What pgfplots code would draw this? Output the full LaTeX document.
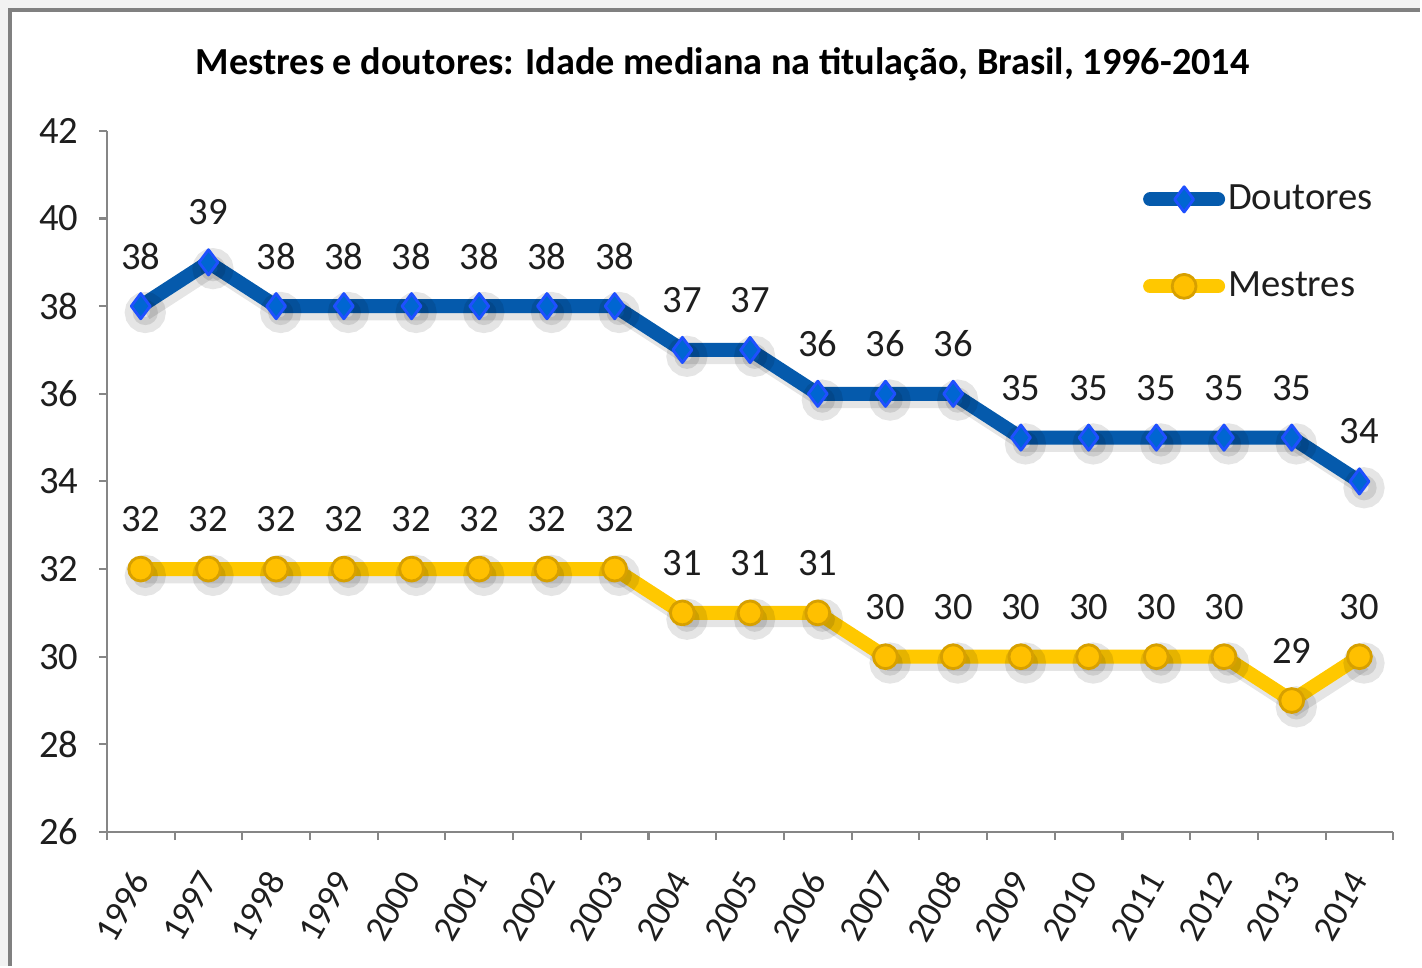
\documentclass[border=0pt]{standalone}
\usepackage{fontspec}
\setmainfont{Carlito}
\usepackage{pgfplots}
\pgfplotsset{compat=1.18}

\definecolor{bgGray}{RGB}{242,242,242}
\definecolor{frameGray}{RGB}{128,128,128}
\definecolor{axisGray}{RGB}{134,134,134}
\definecolor{txt}{RGB}{30,30,30}
\definecolor{doutLine}{RGB}{5,90,172}
\definecolor{doutFill}{RGB}{0,102,210}
\definecolor{doutDraw}{RGB}{30,80,255}
\definecolor{mestLine}{RGB}{255,200,0}
\definecolor{mestFill}{RGB}{255,192,0}
\definecolor{mestDraw}{RGB}{215,160,0}

\pgfplotstableread{
x dout mest
0  38 32
1  39 32
2  38 32
3  38 32
4  38 32
5  38 32
6  38 32
7  38 32
8  37 31
9  37 31
10 36 31
11 36 30
12 36 30
13 35 30
14 35 30
15 35 30
16 35 30
17 35 29
18 34 30
}\idades

\begin{document}
\begin{tikzpicture}[x=1cm,y=1cm]
\fill[bgGray] (0,0) rectangle (14.22,-9.67);
\fill[white] (0.1,-0.1) rectangle (14.22,-9.67);
\draw[frameGray, line width=0.035cm] (0.1,-9.67) -- (0.1,-0.1) -- (14.22,-0.1);
\useasboundingbox (0,0) rectangle (14.22,-9.67);

\node[font=\bfseries\fontsize{10.9}{13}\selectfont, text=black] at (7.235,-0.64)
  {Mestres e doutores: Idade mediana na titulação, Brasil, 1996-2014};

\begin{axis}[
  at={(1.07cm,-8.33cm)}, anchor=south west,
  scale only axis,
  width=12.88cm, height=7.02cm,
  xmin=-0.5, xmax=18.5,
  ymin=26, ymax=42,
  ytick={26,28,...,42},
  xtick={-0.5,0.5,...,18.5},
  x tick label as interval,
  xticklabels={1996,1997,1998,1999,2000,2001,2002,2003,2004,2005,2006,2007,2008,2009,2010,2011,2012,2013,2014},
  axis x line*=bottom,
  axis y line*=left,
  axis line style={axisGray, line width=0.6pt, -},
  tick style={axisGray, line width=0.6pt},
  tick align=outside,
  major tick length=0.08cm,
  /pgf/number format/assume math mode=true,
  yticklabel style={font=\fontsize{11}{13}\selectfont, text=txt, xshift=-0.08cm},
  xticklabel style={font=\fontsize{10.3}{12}\selectfont, text=txt, inner sep=0pt,
    yshift=-0.34cm, rotate=60, anchor=east},
  clip=false,
  legend style={draw=none, fill=none, at={(0.805,0.929)}, anchor=north west,
    inner sep=0pt, row sep=0.51cm,
    font=\fontsize{11}{13}\selectfont, text=txt,
    nodes={inner sep=0.03cm}},
  legend cell align=left,
  legend image code/.code={
    \draw[mark repeat=2, mark phase=2] plot coordinates {(0cm,0cm) (0.34cm,0cm) (0.68cm,0cm)};
  },
]
% shadows
\addplot[black, opacity=0.1, line width=4.5pt, xshift=1.3pt, yshift=-1.8pt, forget plot,
  mark=*, mark size=3.6pt] table[x=x, y=dout] {\idades};
\addplot[black, opacity=0.1, line width=4.5pt, xshift=1.3pt, yshift=-1.8pt, forget plot,
  mark=*, mark size=3.6pt] table[x=x, y=mest] {\idades};

\addplot[doutLine, line width=4pt, line cap=round, line join=round,
  mark=diamond*, mark size=3.6pt,
  mark options={fill=doutFill, draw=doutDraw, line width=0.8pt, solid},
  nodes near coords,
  nodes near coords style={anchor=center, yshift=0.5cm, text=txt,
    font=\fontsize{11}{13}\selectfont},
  ] table[x=x, y=dout] {\idades};
\addlegendentry{Doutores}

\addplot[mestLine, line width=4pt, line cap=round, line join=round,
  mark=*, mark size=3.4pt,
  mark options={fill=mestFill, draw=mestDraw, line width=0.8pt, solid},
  nodes near coords,
  nodes near coords style={anchor=center, yshift=0.5cm, text=txt,
    font=\fontsize{11}{13}\selectfont},
  ] table[x=x, y=mest] {\idades};
\addlegendentry{Mestres}
\end{axis}
\end{tikzpicture}
\end{document}
